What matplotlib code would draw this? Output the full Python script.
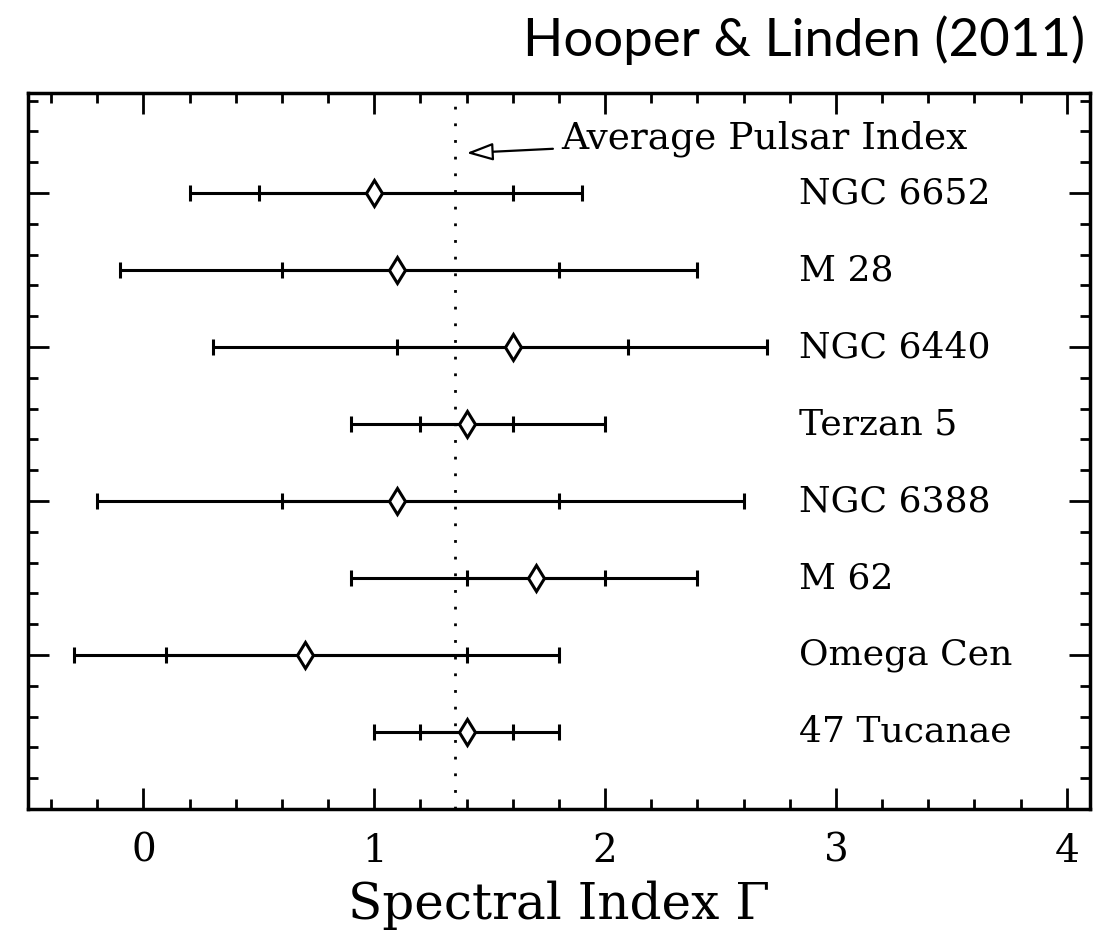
import matplotlib
matplotlib.use("Agg")
import matplotlib.pyplot as plt
import numpy as np
from matplotlib.ticker import MultipleLocator, NullFormatter

# ---------------------------------------------------------------------------
# Data
# ---------------------------------------------------------------------------
CLUSTERS = ["NGC 6652", "M 28", "NGC 6440", "Terzan 5",
            "NGC 6388", "M 62", "Omega Cen", "47 Tucanae"]
INDEX_BEST = np.array([1.0, 1.1, 1.6, 1.4, 1.1, 1.7, 0.7, 1.4])
INNER_LO = np.array([0.5, 0.6, 1.1, 1.2, 0.6, 1.4, 0.1, 1.2])
INNER_HI = np.array([1.6, 1.8, 2.1, 1.6, 1.8, 2.0, 1.4, 1.6])
OUTER_LO = np.array([0.2, -0.1, 0.3, 0.9, -0.2, 0.9, -0.3, 1.0])
OUTER_HI = np.array([1.9, 2.4, 2.7, 2.0, 2.6, 2.4, 1.8, 1.8])
AVG_PULSAR_INDEX = 1.35

SERIF = "DejaVu Serif"

fig = plt.figure(figsize=(11.02, 9.41), dpi=100)
ax = fig.add_axes([0.0254, 0.1403, 0.9636, 0.7609])

rows = 4.0 - 0.5 * np.arange(len(CLUSTERS))

ax.axvline(AVG_PULSAR_INDEX, color="k", lw=2, ls=(0, (1, 5)), zorder=1)

ax.errorbar(INDEX_BEST, rows, xerr=[INDEX_BEST - OUTER_LO, OUTER_HI - INDEX_BEST],
            fmt="none", ecolor="k", elinewidth=2.2, capsize=6, capthick=2.2, zorder=3)
ax.errorbar(INDEX_BEST, rows, xerr=[INDEX_BEST - INNER_LO, INNER_HI - INDEX_BEST],
            fmt="none", ecolor="k", elinewidth=2.2, capsize=6, capthick=2.2, zorder=3)
ax.plot(INDEX_BEST, rows, "d", ms=13, mfc="white", mec="k", mew=2.2, zorder=5)

for name, y in zip(CLUSTERS, rows):
    ax.text(2.84, y, name, ha="left", va="center", fontsize=26, family=SERIF)

ax.annotate("Average Pulsar Index", xy=(1.40, 4.26), xytext=(1.81, 4.355),
            ha="left", va="center", fontsize=27, family=SERIF,
            arrowprops=dict(arrowstyle="-|>,head_length=0.6,head_width=0.2",
                            fc="white", ec="k", lw=1.6, shrinkA=4, shrinkB=0))

ax.set_xlim(-0.5, 4.1)
ax.set_ylim(0, 4.65)
ax.xaxis.set_major_locator(MultipleLocator(1))
ax.xaxis.set_minor_locator(MultipleLocator(0.2))
ax.yaxis.set_major_locator(MultipleLocator(1))
ax.yaxis.set_minor_locator(MultipleLocator(0.2))
ax.yaxis.set_major_formatter(NullFormatter())
ax.tick_params(which="both", direction="in", top=True, right=True, width=2)
ax.tick_params(which="major", length=15, pad=17)
ax.tick_params(which="minor", length=7)
for lab in ax.get_xticklabels():
    lab.set_family(SERIF)
    lab.set_fontsize(28)
for sp in ax.spines.values():
    sp.set_linewidth(2.5)

ax.set_xlabel("Spectral Index \u0393", fontsize=36, family=SERIF, labelpad=8)

fig.text(1085 / 1102, 1 - 40 / 941, "Hooper & Linden (2011)", ha="right",
         va="center", fontsize=38, family="Lato")

fig.savefig("out.png", dpi=100)
